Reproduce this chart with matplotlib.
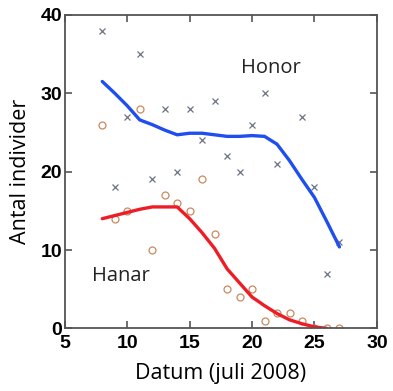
import numpy as np
from matplotlib import pyplot as plt

# observed counts
honor_x = [8, 9, 10, 11, 12, 13, 14, 15, 16, 17, 18, 19, 20, 21, 22, 24, 25, 26, 27]
honor_y = [38, 18, 27, 35, 19, 28, 20, 28, 24, 29, 22, 20, 26, 30, 21, 27, 18, 7, 11]
hanar_x = [8, 9, 10, 11, 12, 13, 14, 15, 16, 17, 18, 19, 20, 21, 22, 23, 24, 25, 26, 27]
hanar_y = [26, 14, 15, 28, 10, 17, 16, 15, 19, 12, 5, 4, 5, 1, 2, 2, 1, 0, 0, 0]

# smoothed curves
honor_sx = list(range(8, 28))
honor_sy = [31.5, 30.0, 28.4, 26.6, 26.0, 25.3, 24.7, 24.9, 24.9, 24.7,
            24.5, 24.5, 24.6, 24.5, 23.5, 21.4, 19.0, 16.7, 13.6, 10.4]
hanar_sx = list(range(8, 27))
hanar_sy = [14.0, 14.4, 14.8, 15.2, 15.5, 15.5, 15.5, 14.0, 12.2, 10.2,
            7.6, 5.8, 4.0, 2.9, 1.9, 1.1, 0.6, 0.2, 0.0]

fig = plt.figure(figsize=(3.93, 3.91), dpi=100)
ax = fig.add_axes([0.165, 0.160, 0.794, 0.802])

ax.plot(honor_x, honor_y, 'x', color='#6b7385', ms=4.5, mew=0.9)
ax.plot(hanar_x, hanar_y, 'o', mfc='none', mec='#c98a5e', ms=5, mew=0.9)
ax.plot(honor_sx, honor_sy, color='#1f4ef0', lw=2.4, solid_capstyle='round')
ax.plot(hanar_sx, hanar_sy, color='#ee1c25', lw=2.4, solid_capstyle='round')

ax.text(21.5, 33.2, 'Honor', fontsize=14.5, family='Open Sans', ha='center', va='center', color='#222222')
ax.text(9.5, 6.7, 'Hanar', fontsize=14.5, family='Open Sans', ha='center', va='center', color='#222222')

ax.set_xlim(5, 30)
ax.set_ylim(0, 40)
ax.set_xticks([5, 10, 15, 20, 25, 30])
ax.set_yticks([0, 10, 20, 30, 40])
ax.tick_params(direction='in', top=True, right=True, length=5, width=1.2,
               color='#555555', labelsize=14)
ax.tick_params(axis='x', pad=5)
ax.tick_params(axis='y', pad=2)
for lab in ax.get_xticklabels() + ax.get_yticklabels():
    lab.set_fontweight('bold')
    lab.set_family('Liberation Sans')
for s in ax.spines.values():
    s.set_color('#555555')
    s.set_linewidth(1.3)

ax.set_xlabel('Datum (juli 2008)', fontsize=15.5, family='Open Sans', labelpad=8)
ax.set_ylabel('Antal individer', fontsize=15.5, family='Open Sans', labelpad=7)

fig.savefig('out.png', dpi=100)
